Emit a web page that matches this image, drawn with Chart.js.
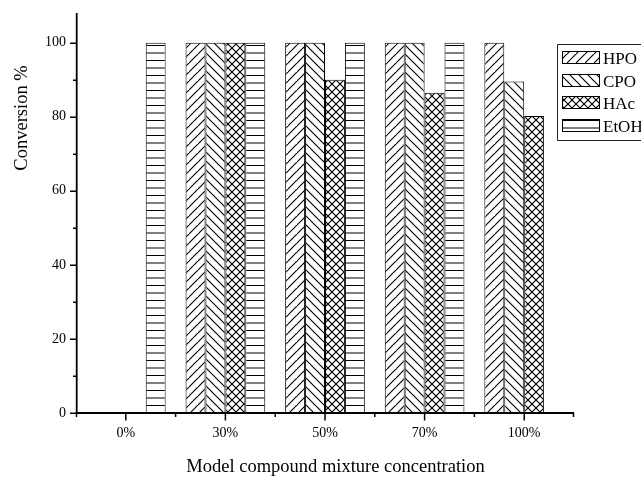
<!DOCTYPE html>
<html>
<head>
<meta charset="utf-8">
<script src="https://cdn.jsdelivr.net/npm/chart.js@4/dist/chart.umd.min.js"></script>
<style>
html,body{margin:0;padding:0;background:#fff;}
canvas{display:block;}
</style>
</head>
<body>
<canvas id="c" width="641" height="477"></canvas>
<script>
// ---- data ----
const categories = ['0%', '30%', '50%', '70%', '100%'];
const seriesNames = ['HPO', 'CPO', 'HAc', 'EtOH'];
const hpo  = [null, 100, 100, 100, 100];
const cpo  = [null, 100, 100, 100, 89.5];
const hac  = [null, 100, 90, 86.5, 80.2];
const etoh = [100, 100, 100, 100, null];
const yMajorTicks = [0, 20, 40, 60, 80, 100];
const yMinorTicks = [10, 30, 50, 70, 90];
const xTitle = 'Model compound mixture concentration';
const yTitle = 'Conversion %';

const FONT = '"Liberation Serif", "Times New Roman", serif';

function makePattern(type) {
  const c = document.createElement('canvas');
  let w, h;
  if (type === 'h') { w = 4; h = 15; }
  else if (type === 'x') { w = 8; h = 8; }
  else { w = 9; h = 9; }
  c.width = w; c.height = h;
  const g = c.getContext('2d');
  g.fillStyle = '#fff';
  g.fillRect(0, 0, w, h);
  g.strokeStyle = '#000';
  g.fillStyle = '#000';
  g.lineWidth = 1.15;
  const fwd = () => {
    g.beginPath();
    g.moveTo(-1, h + 1); g.lineTo(w + 1, -1);
    g.moveTo(-1 - w, h + 1); g.lineTo(1, -1);
    g.moveTo(w - 1, 2 * h + 1); g.lineTo(2 * w + 1, h - 1);
    g.stroke();
  };
  const back = () => {
    g.beginPath();
    g.moveTo(-1, -1); g.lineTo(w + 1, h + 1);
    g.moveTo(-1 - w, -1); g.lineTo(1, h + 1);
    g.moveTo(w - 1, -1); g.lineTo(2 * w + 1, h + 1);
    g.stroke();
  };
  if (type === '/') fwd();
  else if (type === '\\') back();
  else if (type === 'x') { fwd(); back(); }
  else if (type === 'h') {
    g.fillRect(0, 0, w, 1);
    g.fillRect(0, 7.5, w, 1);
  }
  return g.createPattern(c, 'repeat');
}

const patterns = [makePattern('/'), makePattern('\\'), makePattern('x'), makePattern('h')];
const seriesData = [hpo, cpo, hac, etoh];

const decorPlugin = {
  id: 'decor',
  afterDatasetsDraw(chart) {
    const ctx = chart.ctx;
    const xs = chart.scales.x, ys = chart.scales.y;
    const a = chart.chartArea;
    ctx.save();
    ctx.strokeStyle = '#000';
    // axis lines
    ctx.lineWidth = 1.8;
    ctx.beginPath();
    ctx.moveTo(76.7, a.top); ctx.lineTo(76.7, ys.getPixelForValue(0) + 1);
    ctx.moveTo(a.left, ys.getPixelForValue(0)); ctx.lineTo(a.right, ys.getPixelForValue(0));
    ctx.stroke();
    // y ticks
    ctx.lineWidth = 1.5;
    ctx.beginPath();
    yMajorTicks.forEach(v => {
      const p = Math.round(ys.getPixelForValue(v)) + 0.25;
      ctx.moveTo(76.7, p); ctx.lineTo(70, p);
    });
    yMinorTicks.forEach(v => {
      const p = Math.round(ys.getPixelForValue(v)) + 0.25;
      ctx.moveTo(76.7, p); ctx.lineTo(73, p);
    });
    // x ticks
    const y0 = ys.getPixelForValue(0);
    categories.forEach((c, i) => {
      const p = xs.getPixelForValue(i);
      ctx.moveTo(p, y0); ctx.lineTo(p, y0 + 7.5);
    });
    const bounds = [a.left + 0.5];
    for (let i = 0; i < categories.length - 1; i++) {
      bounds.push((xs.getPixelForValue(i) + xs.getPixelForValue(i + 1)) / 2);
    }
    bounds.push(a.right - 0.5);
    bounds.forEach(p => { ctx.moveTo(p, y0); ctx.lineTo(p, y0 + 4); });
    ctx.stroke();
    ctx.restore();
  },
  afterDraw(chart) {
    const ctx = chart.ctx;
    ctx.save();
    ctx.fillStyle = '#000';
    // x title
    ctx.font = '18.5px ' + FONT;
    ctx.textAlign = 'center';
    ctx.textBaseline = 'alphabetic';
    ctx.fillText(xTitle, 335.5, 471.5);
    // y title
    ctx.save();
    ctx.translate(27, 118);
    ctx.rotate(-Math.PI / 2);
    ctx.fillText(yTitle, 0, 0);
    ctx.restore();
    // legend
    ctx.strokeStyle = '#222';
    ctx.lineWidth = 1;
    ctx.fillStyle = '#fff';
    ctx.fillRect(557, 44, 100, 96);
    ctx.beginPath();
    ctx.moveTo(660, 44.5); ctx.lineTo(557.5, 44.5); ctx.lineTo(557.5, 140.5); ctx.lineTo(660, 140.5);
    ctx.stroke();
    ctx.font = '17px ' + FONT;
    ctx.textAlign = 'left';
    ctx.textBaseline = 'alphabetic';
    seriesNames.forEach((n, i) => {
      const top = Math.round(51 + i * 22.6);
      ctx.fillStyle = patterns[i];
      ctx.fillRect(562, top, 37, 12);
      ctx.strokeStyle = '#000';
      ctx.strokeRect(562.5, top + 0.5, 37, 12);
      ctx.fillStyle = '#000';
      ctx.fillText(n, 603, top + 12.5);
    });
    ctx.restore();
  }
};

new Chart(document.getElementById('c'), {
  type: 'bar',
  data: {
    labels: categories,
    datasets: seriesNames.map((n, i) => ({
      label: n,
      data: seriesData[i],
      backgroundColor: patterns[i],
      borderColor: '#000',
      borderWidth: 1,
      borderSkipped: 'start',
      categoryPercentage: 0.8,
      barPercentage: 1.0
    }))
  },
  options: {
    responsive: false,
    animation: false,
    events: [],
    layout: { padding: { left: 0, right: 67, top: 13, bottom: 0 } },
    plugins: { legend: { display: false }, tooltip: { enabled: false }, title: { display: false } },
    scales: {
      x: {
        type: 'category',
        offset: true,
        grid: { display: false, drawTicks: false },
        border: { display: false },
        ticks: { color: '#000', padding: 12, maxRotation: 0, font: { family: FONT, size: 14 } },
        afterFit(s) { s.height = 64; s.paddingLeft = 0; s.paddingRight = 0; }
      },
      y: {
        min: 0,
        max: 108,
        grid: { display: false, drawTicks: false },
        border: { display: false },
        ticks: { color: '#000', padding: 10, font: { family: FONT, size: 14 } },
        afterBuildTicks(s) { s.ticks = yMajorTicks.map(v => ({ value: v })); },
        afterFit(s) { s.width = 76; s.paddingTop = 0; s.paddingBottom = 0; }
      }
    }
  },
  plugins: [decorPlugin]
});
</script>
</body>
</html>
